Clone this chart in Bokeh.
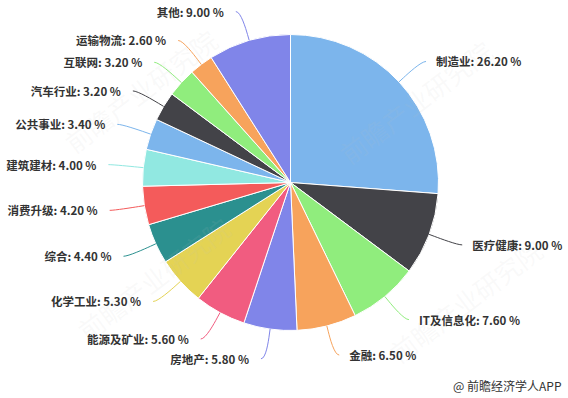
import math
from bokeh.plotting import figure
from bokeh.models import Range1d, ColumnDataSource
from bokeh.embed import file_html
from bokeh.resources import INLINE
from bokeh.core.properties import value

# ---- data ----
categories = ["制造业", "医疗健康", "IT及信息化", "金融", "房地产", "能源及矿业", "化学工业",
              "综合", "消费升级", "建筑建材", "公共事业", "汽车行业", "互联网", "运输物流", "其他"]
shares = [26.2, 9.0, 7.6, 6.5, 5.8, 5.6, 5.3, 4.4, 4.2, 4.0, 3.4, 3.2, 3.2, 2.6, 9.0]
palette = ["#7cb5ec", "#434348", "#90ed7d", "#f7a35c", "#8085e9",
           "#f15c80", "#e4d354", "#2b908f", "#f45b5b", "#91e8e1"]
source_note = "@ 前瞻经济学人APP"
watermark = "前瞻产业研究院"

# ---- layout ----
W, H = 568, 398
CX, CY, R = 290, 216, 148
LABEL_DIST = 30
BREAK_DIST = 6
FONT = "Noto Sans CJK SC"

colors = [palette[i % len(palette)] for i in range(len(categories))]
total = sum(shares)

starts, ends = [], []
lx, ly, tx, aligns, texts = [], [], [], [], []
bx0, by0, bx1, by1, bcx0, bcy0, bcx1, bcy1 = [], [], [], [], [], [], [], []
sx0, sy0, sx1, sy1 = [], [], [], []
cum = 0.0
for cat, v in zip(categories, shares):
    a, b = cum / total, (cum + v) / total
    cum += v
    starts.append(math.pi / 2 - 2 * math.pi * b)
    ends.append(math.pi / 2 - 2 * math.pi * a)
    th = 2 * math.pi * (a + b) / 2
    s, c = math.sin(th), math.cos(th)
    px, py = CX + (R + LABEL_DIST) * s, CY + (R + LABEL_DIST) * c
    ex, ey = CX + R * s, CY + R * c
    kx, ky = CX + (R + BREAK_DIST) * s, CY + (R + BREAK_DIST) * c
    right = s >= 0
    d = 1 if right else -1
    lx.append(px); ly.append(py)
    tx.append(px + (15 if right else -17))
    aligns.append("left" if right else "right")
    texts.append(f"{cat}: {v:.2f} %")
    bx0.append(px + 5 * d); by0.append(py)
    bx1.append(kx); by1.append(ky)
    bcx0.append(px); bcy0.append(py)
    bcx1.append(2 * kx - ex); bcy1.append(2 * ky - ey)
    sx0.append(kx); sy0.append(ky); sx1.append(ex); sy1.append(ey)

src = ColumnDataSource(dict(start=starts, end=ends, color=colors))
lab = ColumnDataSource(dict(x=tx, y=ly, text=texts, align=aligns))
con = ColumnDataSource(dict(x0=bx0, y0=by0, x1=bx1, y1=by1, cx0=bcx0, cy0=bcy0,
                            cx1=bcx1, cy1=bcy1, sx0=sx0, sy0=sy0, sx1=sx1, sy1=sy1,
                            color=colors))

p = figure(width=W, height=H, x_range=Range1d(0, W), y_range=Range1d(0, H),
           output_backend="svg", toolbar_location=None, min_border=0,
           x_axis_type=None, y_axis_type=None)
p.grid.visible = False
p.outline_line_color = None
p.background_fill_color = "white"
p.border_fill_color = "white"

p.wedge(x=CX, y=CY, radius=R, start_angle="start", end_angle="end", direction="anticlock",
        fill_color="color", line_color="white", line_width=1, source=src)

p.bezier(x0="x0", y0="y0", x1="x1", y1="y1", cx0="cx0", cy0="cy0", cx1="cx1", cy1="cy1",
         line_color="color", line_width=1, source=con)
p.segment(x0="sx0", y0="sy0", x1="sx1", y1="sy1", line_color="color", line_width=1, source=con)

# faint watermark
wm_x = [140, 415, 153, 465]
wm_y = [308, 297, 120, 98]
p.text(x=wm_x, y=wm_y, text=[watermark] * 4, angle=math.radians(37),
       text_align="center", text_baseline="middle", text_font=value(FONT),
       text_font_size="26px", text_color="#c0c0c0", text_alpha=0.1)

p.text(x="x", y="y", text="text", text_align="align", text_baseline="middle",
       text_font=value(FONT), text_font_style="bold", text_font_size="11.5px",
       text_color="#333333", source=lab)

p.text(x=[561], y=[13], text=[source_note], text_align="right", text_baseline="middle",
       text_font=value(FONT), text_font_size="12px", text_color="#333333")

open("out.html", "w").write(file_html(p, INLINE))
